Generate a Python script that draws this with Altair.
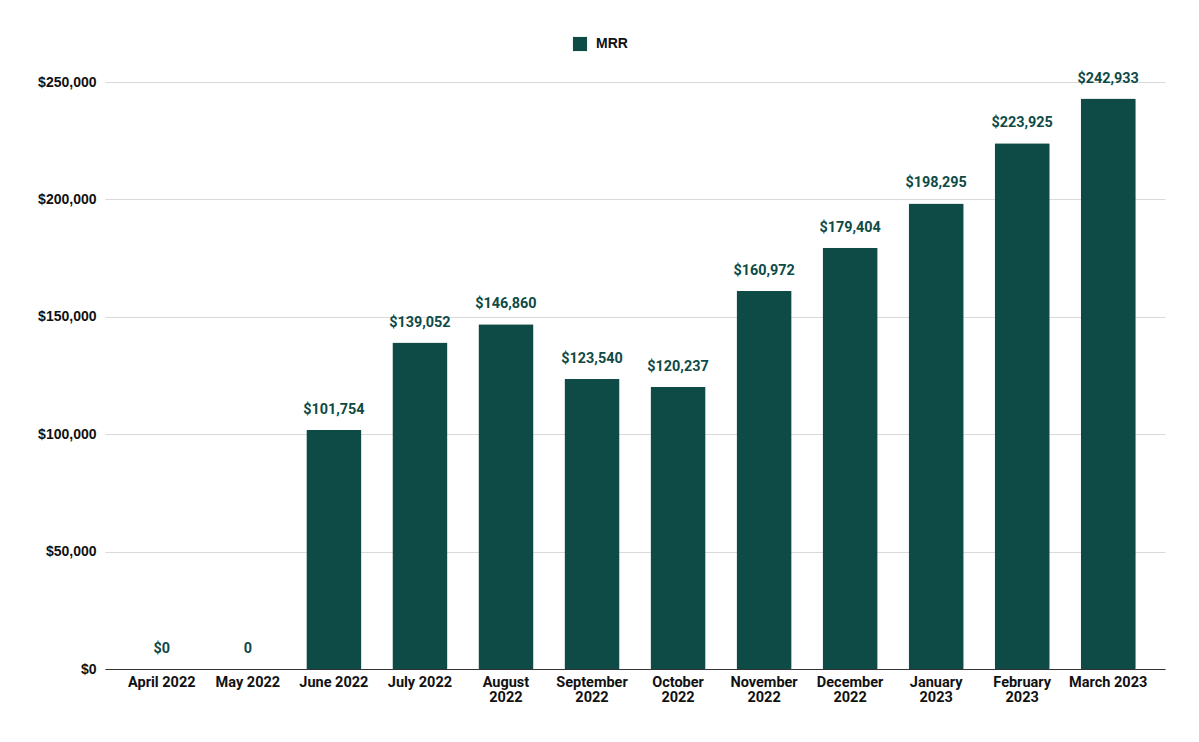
import altair as alt
import pandas as pd

months = ["April 2022", "May 2022", "June 2022", "July 2022", "August 2022",
          "September 2022", "October 2022", "November 2022", "December 2022",
          "January 2023", "February 2023", "March 2023"]
mrr = [0, 0, 101754, 139052, 146860, 123540, 120237, 160972, 179404,
       198295, 223925, 242933]
value_labels = ["$0", "0", "$101,754", "$139,052", "$146,860", "$123,540",
                "$120,237", "$160,972", "$179,404", "$198,295", "$223,925",
                "$242,933"]
wrapped = ["August 2022", "September 2022", "October 2022", "November 2022",
           "December 2022", "January 2023", "February 2023"]
y_ticks = [0, 50000, 100000, 150000, 200000, 250000]

df = pd.DataFrame({"month": months, "MRR": mrr, "label": value_labels,
                   "series": ["MRR"] * len(months)})

GREEN = "#0e4a46"
FONT = "Roboto"
FONT2 = "Liberation Sans"

wrap_js = "[" + ",".join("'" + w + "'" for w in wrapped) + "]"
label_expr = f"indexof({wrap_js}, datum.value) >= 0 ? split(datum.value, ' ') : datum.value"

x = alt.X("month:N", sort=months, title=None,
          scale=alt.Scale(paddingInner=0.36, paddingOuter=0.34),
          axis=alt.Axis(labelAngle=0, labelExpr=label_expr, ticks=False,
                        domainColor="#333333", labelFont=FONT, labelFontSize=14.5,
                        labelFontWeight="bold", labelColor="#111111",
                        labelPadding=6, labelLineHeight=15.5, grid=False))

bars = alt.Chart(df).mark_bar(color=GREEN, cornerRadius=1).encode(
    x=x,
    y=alt.Y("MRR:Q", title=None,
            scale=alt.Scale(domain=[0, 250000], nice=False),
            axis=alt.Axis(values=y_ticks, format="$,.0f", domain=False,
                          ticks=False, gridColor="#d9d9d9",
                          gridWidth=1.2, labelFont=FONT2, labelFontSize=14,
                          labelFontWeight="bold", labelColor="#111111",
                          labelPadding=9)),
    color=alt.Color("series:N", scale=alt.Scale(domain=["MRR"], range=[GREEN]),
                    legend=alt.Legend(title=None, orient="none", legendX=467,
                                      legendY=-46, symbolType="square",
                                      symbolSize=200, labelFont=FONT2,
                                      labelFontSize=14, labelFontWeight="bold",
                                      labelColor="#111111", labelOffset=8)),
)

texts = alt.Chart(df).mark_text(color=GREEN, font=FONT, fontSize=14.4,
                                fontWeight="bold", baseline="alphabetic",
                                dy=-16).encode(
    x=alt.X("month:N", sort=months),
    y=alt.Y("MRR:Q"),
    text="label:N",
)

chart = alt.layer(bars, texts).properties(
    width=1060, height=587,
    background="white",
    autosize=alt.AutoSizeParams(type="none"),
    padding={"left": 97, "top": 74, "right": 26, "bottom": 60},
).configure_view(strokeWidth=0, strokeOpacity=0)

chart.save("out.html", embed_options={"renderer": "svg", "actions": False})
